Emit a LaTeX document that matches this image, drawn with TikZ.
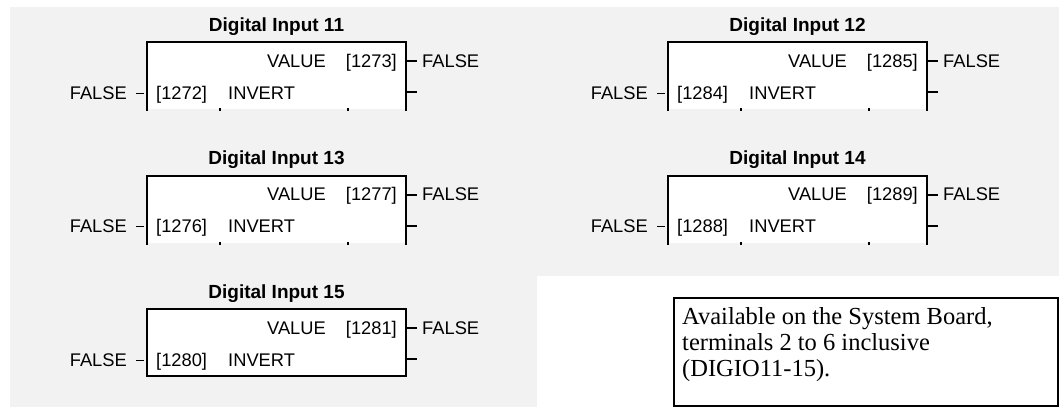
\documentclass[tikz,border=0pt]{standalone}
\usepackage{fontspec}
\setmainfont{Liberation Sans}
\newfontfamily\notefont{Liberation Serif}
\definecolor{bggray}{HTML}{F2F2F2}
\tikzset{
  lbl/.style={inner sep=0pt, font=\fontsize{18.3}{21}\selectfont},
  ttl/.style={inner sep=0pt, font=\fontsize{19}{22}\selectfont\bfseries},
  notelbl/.style={inner sep=0pt, anchor=base west, font=\notefont\fontsize{24.5}{26}\selectfont},
  boxline/.style={line width=2pt, line cap=rect},
  stub/.style={line width=2pt},
  thinstub/.style={line width=1pt},
  tick/.style={line width=1.5pt},
}
\newcommand{\digiblock}[7]{% #1 name, #2 left, #3 top, #4 title no., #5 value id, #6 invert id, #7 full border (1/0)
  \coordinate (#1-tl) at (#2,#3);
  \coordinate (#1-bl) at (#2,{#3+67});
  \coordinate (#1-tr) at ({#2+259},#3);
  \coordinate (#1-br) at ({#2+259},{#3+67});
  \fill[white] (#1-tl) rectangle (#1-br);
  \ifnum#7=1
    \draw[boxline] (#1-tl) rectangle (#1-br);
  \else
    \draw[boxline] (#1-bl) -- (#1-tl) -- (#1-tr) -- (#1-br);
    \foreach \dx in {0,73,201,259} \draw[tick] ({#2+\dx},{#3+66}) -- ({#2+\dx},{#3+69});
  \fi
  \node[ttl, anchor=base] (#1-title) at ({#2+129.5},{#3-11}) {Digital Input #4};
  \node[lbl, anchor=base east] (#1-valid) at ({#2+250},{#3+25}) {[#5]};
  \node[lbl, anchor=base east] (#1-val) at ({#2+179},{#3+25}) {VALUE};
  \node[lbl, anchor=base west] (#1-invid) at ({#2+9},{#3+57}) {[#6]};
  \node[lbl, anchor=base west] (#1-inv) at ({#2+81},{#3+57}) {INVERT};
  \node[lbl, anchor=base east] (#1-in) at ({#2-20},{#3+57}) {FALSE};
  \node[lbl, anchor=base west] (#1-out) at ({#2+275},{#3+25}) {FALSE};
  \coordinate (#1-vd) at ({#2+259},{#3+19});
  \coordinate (#1-id) at ({#2+259},{#3+50});
  \coordinate (#1-ide) at ({#2+270},{#3+50});
  \draw[thinstub] (#1-in.base east) ++(9,-6) -- ++(8,0);
  \draw[stub] (#1-vd) -- ([xshift=-5pt]#1-out.west |- #1-vd);
  \draw[stub] (#1-id) -- (#1-ide);
}
\begin{document}
\begin{tikzpicture}[x=1pt,y=-1pt]
  \useasboundingbox (0,0) rectangle (1059,407);
  \fill[bggray] (10,7) rectangle (1059,407);
  \fill[white] (537,276) rectangle (1059,407);

  \digiblock{d11}{147}{42}{11}{1273}{1272}{0}
  \digiblock{d12}{668}{42}{12}{1285}{1284}{0}
  \digiblock{d13}{147}{175.5}{13}{1277}{1276}{0}
  \digiblock{d14}{668}{175.5}{14}{1289}{1288}{0}
  \digiblock{d15}{147}{309}{15}{1281}{1280}{1}

  \node[draw, line width=2pt, fill=white, minimum width=384pt, minimum height=108pt, anchor=north west, inner sep=0pt] (note) at (673,297) {};
  \node[notelbl] (note1) at (682,324) {Available on the System Board,};
  \node[notelbl] (note2) at (682,350) {terminals 2 to 6 inclusive};
  \node[notelbl] (note3) at (682,376) {(DIGIO11-15).};
\end{tikzpicture}
\end{document}
